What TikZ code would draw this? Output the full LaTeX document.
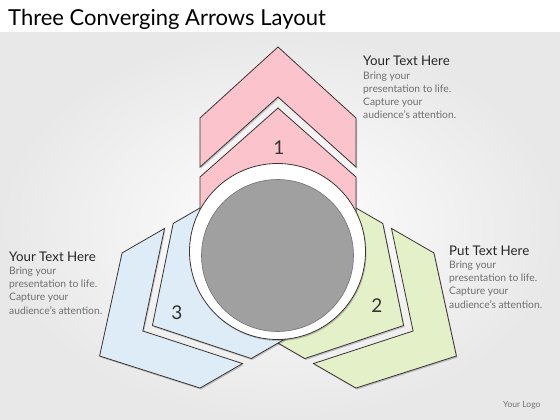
\documentclass[tikz,border=0pt]{standalone}
\usepackage{fontspec}
\setmainfont{Lato}
\usetikzlibrary{shadows}
\definecolor{pinkfill}{RGB}{251,196,204}
\definecolor{greenfill}{RGB}{228,240,200}
\definecolor{bluefill}{RGB}{221,236,246}
\definecolor{edgecol}{RGB}{60,52,52}
\definecolor{graydisk}{RGB}{160,160,160}
\definecolor{bodytext}{RGB}{110,110,110}
\tikzset{
  chev/.style={draw=edgecol, line width=0.8pt, line join=miter, drop shadow={shadow xshift=1pt, shadow yshift=-1.5pt, opacity=0.2, fill=black}},
  heading/.style={anchor=west, inner sep=0pt, font=\fontsize{13.3}{15}\selectfont, text=black!85},
  bodyline/.style={anchor=west, inner sep=0pt, font=\fontsize{10.3}{12}\selectfont, text=bodytext},
  numlabel/.style={inner sep=0pt, font=\fontsize{19}{21}\selectfont, text=black!80},
}
\newcommand{\arrowpair}[2]{%
  \begin{scope}[shift={(278,253)}, rotate=#1]
    \path[chev, fill=#2] (0,-206) -- (78,-135) -- (78,-86) -- (0,-156) -- (-78,-86) -- (-78,-135) -- cycle;
    \path[chev, fill=#2] (0,-145) -- (78,-76) -- (78,0) -- (-78,0) -- (-78,-76) -- cycle;
  \end{scope}}
\begin{document}
\begin{tikzpicture}[x=1pt, y=-1pt]
  \useasboundingbox (0,0) rectangle (560,420);
  \fill[white] (0,0) rectangle (560,420);
  \shade[inner color=white, outer color=black!9] (0,33) rectangle (560,420);
  % title
  \node[anchor=west, inner sep=0pt, font=\fontsize{22}{24}\selectfont] (title) at (8,19) {Three Converging Arrows Layout};
  % arrows
  \arrowpair{240}{greenfill}
  \arrowpair{120}{bluefill}
  \arrowpair{0}{pinkfill}
  % central ring and disk
  \draw[edgecol, line width=0.8pt, fill=white, drop shadow={shadow xshift=1pt, shadow yshift=-1.5pt, opacity=0.2, fill=black}] (277.5,251.5) circle (88pt);
  \draw[edgecol!70, line width=0.6pt, fill=graydisk] (277.5,255.5) circle (76pt);
  % numbers
  \node[numlabel] (n1) at (279,148) {1};
  \node[numlabel] (n2) at (377,306) {2};
  \node[numlabel] (n3) at (177,313) {3};
  % text block top right
  \node[heading] (h1) at (363,61) {Your Text Here};
  \node[bodyline] (a1) at (363,77) {Bring your};
  \node[bodyline] (a2) at (363,90) {presentation to life.};
  \node[bodyline] (a3) at (363,103) {Capture your};
  \node[bodyline] (a4) at (363,115) {audience’s attention.};
  % text block left
  \node[heading] (h2) at (9,257) {Your Text Here};
  \node[bodyline] (b1) at (9,272) {Bring your};
  \node[bodyline] (b2) at (9,285) {presentation to life.};
  \node[bodyline] (b3) at (9,298) {Capture your};
  \node[bodyline] (b4) at (9,311) {audience’s attention.};
  % text block right
  \node[heading] (h3) at (449,251) {Put Text Here};
  \node[bodyline] (c1) at (449,266) {Bring your};
  \node[bodyline] (c2) at (449,279) {presentation to life.};
  \node[bodyline] (c3) at (449,292) {Capture your};
  \node[bodyline] (c4) at (449,305) {audience’s attention.};
  % logo
  \node[anchor=west, inner sep=0pt, font=\fontsize{8.5}{9}\selectfont, text=black!55] (logo) at (503,405) {Your Logo};
\end{tikzpicture}
\end{document}
